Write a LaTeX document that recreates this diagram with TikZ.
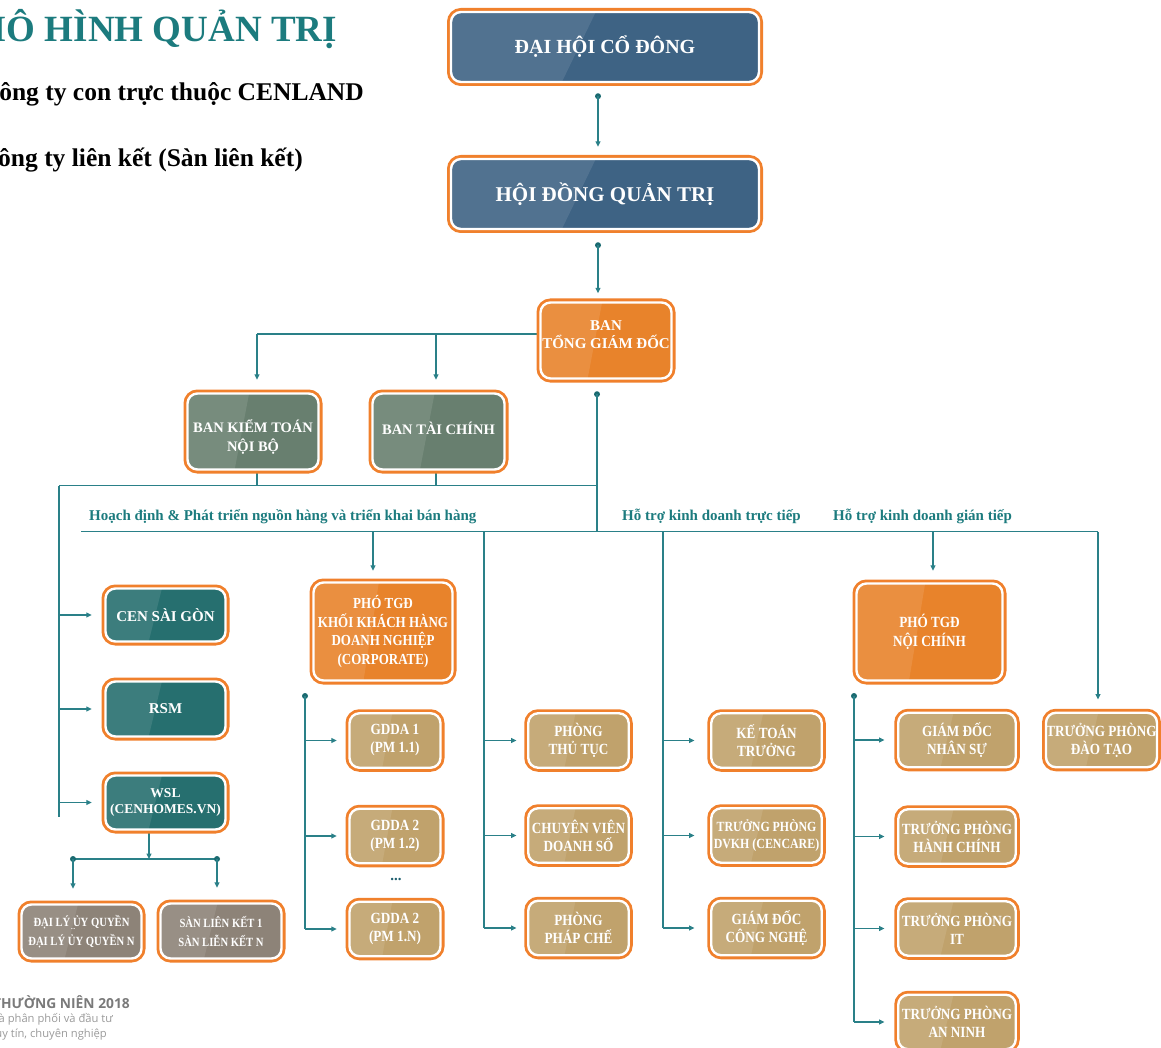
\documentclass[tikz,border=0pt]{standalone}
\usepackage{fontspec}
\setmainfont{Liberation Serif}
\newfontfamily\condserif{Liberation Serif}[FakeStretch=0.85]
\newfontfamily\footsans{Open Sans}
\usetikzlibrary{arrows.meta,calc,backgrounds}
\definecolor{titleteal}{HTML}{1C7B7E}
\definecolor{lineteal}{HTML}{2A8088}
\definecolor{dotteal}{HTML}{1A6A70}
\definecolor{borderor}{HTML}{F0802C}
\definecolor{cblue}{HTML}{3E6384}
\definecolor{corange}{HTML}{E8832B}
\definecolor{cgreen}{HTML}{687F6F}
\definecolor{cteal}{HTML}{266F6F}
\definecolor{ctan}{HTML}{C0A26C}
\definecolor{cgrey}{HTML}{8D8378}
\definecolor{footgrey}{HTML}{7A7A7A}
\definecolor{footlight}{HTML}{9A9A9A}
\definecolor{dotsdark}{HTML}{1F5F6F}
\begin{document}
\begin{tikzpicture}[x=1pt,y=-1pt,
  conn/.style={draw=lineteal, line width=1.2pt},
  arr/.style={conn, -{Triangle[length=5.5pt,width=5pt]}},
  dotc/.style={fill=dotteal},
  box/.style={rectangle, rounded corners=10pt, draw=white, line width=2.4pt,
    preaction={draw=borderor, line width=8pt},
    inner sep=0pt, align=center, text=white,
    path picture={\fill[white,fill opacity=0.1,sharp corners] (path picture bounding box.north west) -- ($(path picture bounding box.north west)!0.47!(path picture bounding box.north east)$) -- ($(path picture bounding box.south west)!0.36!(path picture bounding box.south east)$) -- (path picture bounding box.south west) -- cycle;}},
  boxtext/.style={text=white, align=center, inner sep=0pt},
  bluebox/.style={box, fill=cblue, font=\bfseries\fontsize{20}{24}\selectfont, minimum width=308pt, minimum height=70pt},
  tealbox/.style={box, fill=cteal, font=\bfseries\fontsize{15}{18}\selectfont, minimum width=120pt, minimum height=54pt},
  greybox/.style={box, fill=cgrey, font=\condserif\bfseries\fontsize{12.5}{19}\selectfont, minimum width=120pt, minimum height=54pt},
  tanbox/.style={box, fill=ctan, font=\condserif\bfseries\fontsize{15.5}{18}\selectfont, minimum height=54.5pt},
  seclabel/.style={text=titleteal, font=\bfseries\fontsize{15}{18}\selectfont, inner sep=0pt, anchor=base west},
  toptext/.style={inner sep=0pt, anchor=base east}
]
\useasboundingbox (0,0) rectangle (1161,1048);

% heading texts
\node[toptext, text=titleteal, font=\bfseries\fontsize{37}{40}\selectfont] (title) at (337,42) {MÔ HÌNH QUẢN TRỊ};
\node[toptext, font=\bfseries\fontsize{25.5}{28}\selectfont] (sub1) at (364,101) {Công ty con trực thuộc CENLAND};
\node[toptext, font=\bfseries\fontsize{25.5}{28}\selectfont] (sub2) at (303,167) {Công ty liên kết (Sàn liên kết)};

% footer
\node[toptext, text=footgrey, font=\footsans\bfseries\fontsize{13.8}{15}\selectfont] (f1) at (130,1008) {THƯỜNG NIÊN 2018};
\node[toptext, text=footlight, font=\footsans\fontsize{11.2}{12}\selectfont] (f2) at (113,1022) {Nhà phân phối và đầu tư};
\node[toptext, text=footlight, font=\footsans\fontsize{11.2}{12}\selectfont] (f3) at (107,1037) {uy tín, chuyên nghiệp};

% top boxes
\node[bluebox] (dhcd) at (605,47) {ĐẠI HỘI CỔ ĐÔNG};
\node[bluebox, font=\bfseries\fontsize{21}{24}\selectfont] (hdqt) at (605,194) {HỘI ĐỒNG QUẢN TRỊ};

\node[box, fill=corange, minimum width=131pt, minimum height=76pt] (btgd) at (606,340.5) {};
\node[boxtext, font=\bfseries\fontsize{15}{18}\selectfont] (btgdt) at (606,334.5) {BAN\\TỔNG GIÁM ĐỐC};

\node[box, fill=cgreen, minimum width=131pt, minimum height=76pt] (bkt) at (253,431.5) {};
\node[boxtext, font=\bfseries\fontsize{14.5}{19}\selectfont] (bktt) at (253,437) {BAN KIỂM TOÁN\\NỘI BỘ};
\node[box, fill=cgreen, minimum width=132pt, minimum height=76pt] (btc) at (438.5,431.5) {};
\node[boxtext, font=\bfseries\fontsize{14.5}{19}\selectfont] (btct) at (438.5,428.5) {BAN TÀI CHÍNH};

% section labels
\node[seclabel] (s1) at (89,520) {Hoạch định \& Phát triển nguồn hàng và triển khai bán hàng};
\node[seclabel] (s2) at (622,520) {Hỗ trợ kinh doanh trực tiếp};
\node[seclabel] (s3) at (833,520) {Hỗ trợ kinh doanh gián tiếp};

% left column
\node[tealbox, minimum height=53pt] (censg) at (165.5,615) {CEN SÀI GÒN};
\node[tealbox, minimum height=55pt] (rsm) at (165.5,709) {RSM};
\node[tealbox, font=\bfseries\fontsize{13.5}{16}\selectfont] (wsl) at (165.5,802.5) {WSL\\(CENHOMES.VN)};
\node[greybox] (daily) at (81.5,931.5) {ĐẠI LÝ ỦY QUYỀN\\ĐẠI LÝ ỦY QUYỀN N};
\node[text=white, inner sep=0pt, font=\bfseries\fontsize{6}{6}\selectfont] (dlydots) at (73,929) {...};
\node[greybox, minimum width=121pt, minimum height=55pt] (sanlk) at (221,931) {SÀN LIÊN KẾT 1\\SÀN LIỄN KẾT N};

% orange vice directors
\node[box, fill=corange, minimum width=139pt, minimum height=98pt, font=\condserif\bfseries\fontsize{15.3}{18.5}\selectfont] (ptgdkh) at (383,631.5) {PHÓ TGĐ\\KHỐI KHÁCH HÀNG\\DOANH NGHIỆP\\(CORPORATE)};
\node[box, fill=corange, minimum width=146pt, minimum height=97pt, font=\condserif\bfseries\fontsize{15.5}{19}\selectfont] (ptgdnc) at (929.5,632) {PHÓ TGĐ\\NỘI CHÍNH};

% GDDA column
\node[tanbox, minimum width=91pt] (gdda1) at (395,740.5) {GDDA 1\\(PM 1.1)};
\node[tanbox, minimum width=91pt] (gdda2) at (395,836) {GDDA 2\\(PM 1.2)};
\node[text=dotsdark, inner sep=0pt, font=\bfseries\fontsize{15}{15}\selectfont] (gdots) at (396,879) {...};
\node[tanbox, minimum width=91pt] (gddan) at (395,929) {GDDA 2\\(PM 1.N)};

% Phong column
\node[tanbox, minimum width=100.5pt] (ptt) at (578.5,740.5) {PHÒNG\\THỦ TỤC};
\node[tanbox, minimum width=100.5pt] (cvds) at (578.5,835.5) {CHUYÊN VIÊN\\DOANH SỐ};
\node[tanbox, minimum width=100.5pt] (ppc) at (578.5,928) {PHÒNG\\PHÁP CHẾ};

% Ke toan column
\node[tanbox, minimum width=110.5pt] (ktt) at (766.5,740.5) {KẾ TOÁN\\TRƯỞNG};
\node[tanbox, minimum width=110.5pt, font=\condserif\bfseries\fontsize{14}{17}\selectfont] (tpdvkh) at (766.5,835.5) {TRƯỞNG PHÒNG\\DVKH (CENCARE)};
\node[tanbox, minimum width=110.5pt] (gdcn) at (766.5,928) {GIÁM ĐỐC\\CÔNG NGHỆ};

% Noi chinh column
\node[tanbox, minimum width=117.5pt] (gdns) at (957,740) {GIÁM ĐỐC\\NHÂN SỰ};
\node[tanbox, minimum width=117.5pt] (tphc) at (957,836.5) {TRƯỞNG PHÒNG\\HÀNH CHÍNH};
\node[tanbox, minimum width=117.5pt] (tpit) at (957,928.5) {TRƯỞNG PHÒNG\\IT};
\node[tanbox, minimum width=117.5pt] (tpan) at (957,1022) {TRƯỞNG PHÒNG\\AN NINH};
\node[tanbox, minimum width=111pt] (tpdt) at (1101.5,740) {TRƯỞNG PHÒNG\\ĐÀO TẠO};

% connectors
\begin{scope}[on background layer]
  \coordinate (p1) at ($(dhcd.south)+(-7,13)$);
  \fill[dotc] (p1) circle[radius=3pt];
  \draw[arr, shorten >=11pt] (p1) -- (p1 |- hdqt.north);

  \coordinate (p2) at ($(hdqt.south)+(-7,15)$);
  \fill[dotc] (p2) circle[radius=3pt];
  \draw[arr, shorten >=8pt] (p2) -- (p2 |- btgd.north);

  \coordinate (h1) at ($(btgd.west)+(0,-6.5)$);
  \coordinate (bkx) at ($(bkt.center)+(4,0)$);
  \coordinate (btx) at ($(btc.center)+(-2.5,0)$);
  \draw[conn] (h1) -- (bkx |- h1);
  \draw[arr, shorten >=12.5pt] (bkx |- h1) -- (bkx |- bkt.north);
  \draw[arr, shorten >=12.5pt] (btx |- h1) -- (btx |- btc.north);

  \coordinate (jL) at (59,485.7);
  \coordinate (jR) at (597,485.7);
  \coordinate (lvEnd) at (59,817);
  \draw[conn] (bkx |- bkt.south) -- (bkx |- jL);
  \draw[conn] (btx |- btc.south) -- (btx |- jL);
  \draw[conn] (jL) -- (jR);
  \draw[conn] (jL) -- (lvEnd);
  \foreach \n in {censg,rsm,wsl}
    \draw[arr, shorten >=12.5pt] (jL |- \n.west) -- (\n.west);

  \coordinate (h2L) at (81,531.7);
  \coordinate (h2R) at (1098,531.7);
  \coordinate (d3) at ($(btgd.south)+(-9,14.5)$);
  \fill[dotc] (d3) circle[radius=3pt];
  \draw[conn] (d3) -- (d3 |- h2L);
  \draw[conn] (h2L) -- (h2R);
  \draw[arr, shorten >=12pt] (h2R) -- (h2R |- tpdt.north);

  \coordinate (kx) at ($(ptgdkh.center)+(-10,0)$);
  \draw[arr, shorten >=10.5pt] (kx |- h2L) -- (kx |- ptgdkh.north);
  \coordinate (nx) at ($(ptgdnc.center)+(3.5,0)$);
  \draw[arr, shorten >=11.5pt] (nx |- h2L) -- (nx |- ptgdnc.north);

  \coordinate (kvTop) at (305,696);
  \fill[dotc] (kvTop) circle[radius=3pt];
  \draw[conn] (kvTop) -- (kvTop |- gddan.west);
  \foreach \n in {gdda1,gdda2,gddan}
    \draw[arr, shorten >=11.5pt] (kvTop |- \n.west) -- (\n.west);

  \coordinate (pvx) at (484,531.7);
  \draw[conn] (pvx) -- (pvx |- ppc.west);
  \foreach \n in {ptt,cvds,ppc}
    \draw[arr, shorten >=10.5pt] (pvx |- \n.west) -- (\n.west);

  \coordinate (kvx) at (663,531.7);
  \draw[conn] (kvx) -- (kvx |- gdcn.west);
  \foreach \n in {ktt,tpdvkh,gdcn}
    \draw[arr, shorten >=15.5pt] (kvx |- \n.west) -- (\n.west);

  \coordinate (nvTop) at (854,696);
  \fill[dotc] (nvTop) circle[radius=3pt];
  \draw[conn] (nvTop) -- (nvTop |- tpan.west);
  \foreach \n in {gdns,tphc,tpit,tpan}
    \draw[arr, shorten >=12.5pt] (nvTop |- \n.west) -- (\n.west);

  \coordinate (wx) at ($(wsl.center)+(-16.5,0)$);
  \coordinate (hbL) at (73,859);
  \coordinate (hbR) at (217,859);
  \draw[arr] (wx |- wsl.south) -- (wx |- hbL);
  \draw[conn] (hbL) -- (hbR);
  \fill[dotc] (hbL) circle[radius=3pt];
  \fill[dotc] (hbR) circle[radius=3pt];
  \draw[arr, shorten >=14.5pt] (hbL) -- (hbL |- daily.north);
  \draw[arr, shorten >=14.5pt] (hbR) -- (hbR |- sanlk.north);
\end{scope}
\end{tikzpicture}
\end{document}
